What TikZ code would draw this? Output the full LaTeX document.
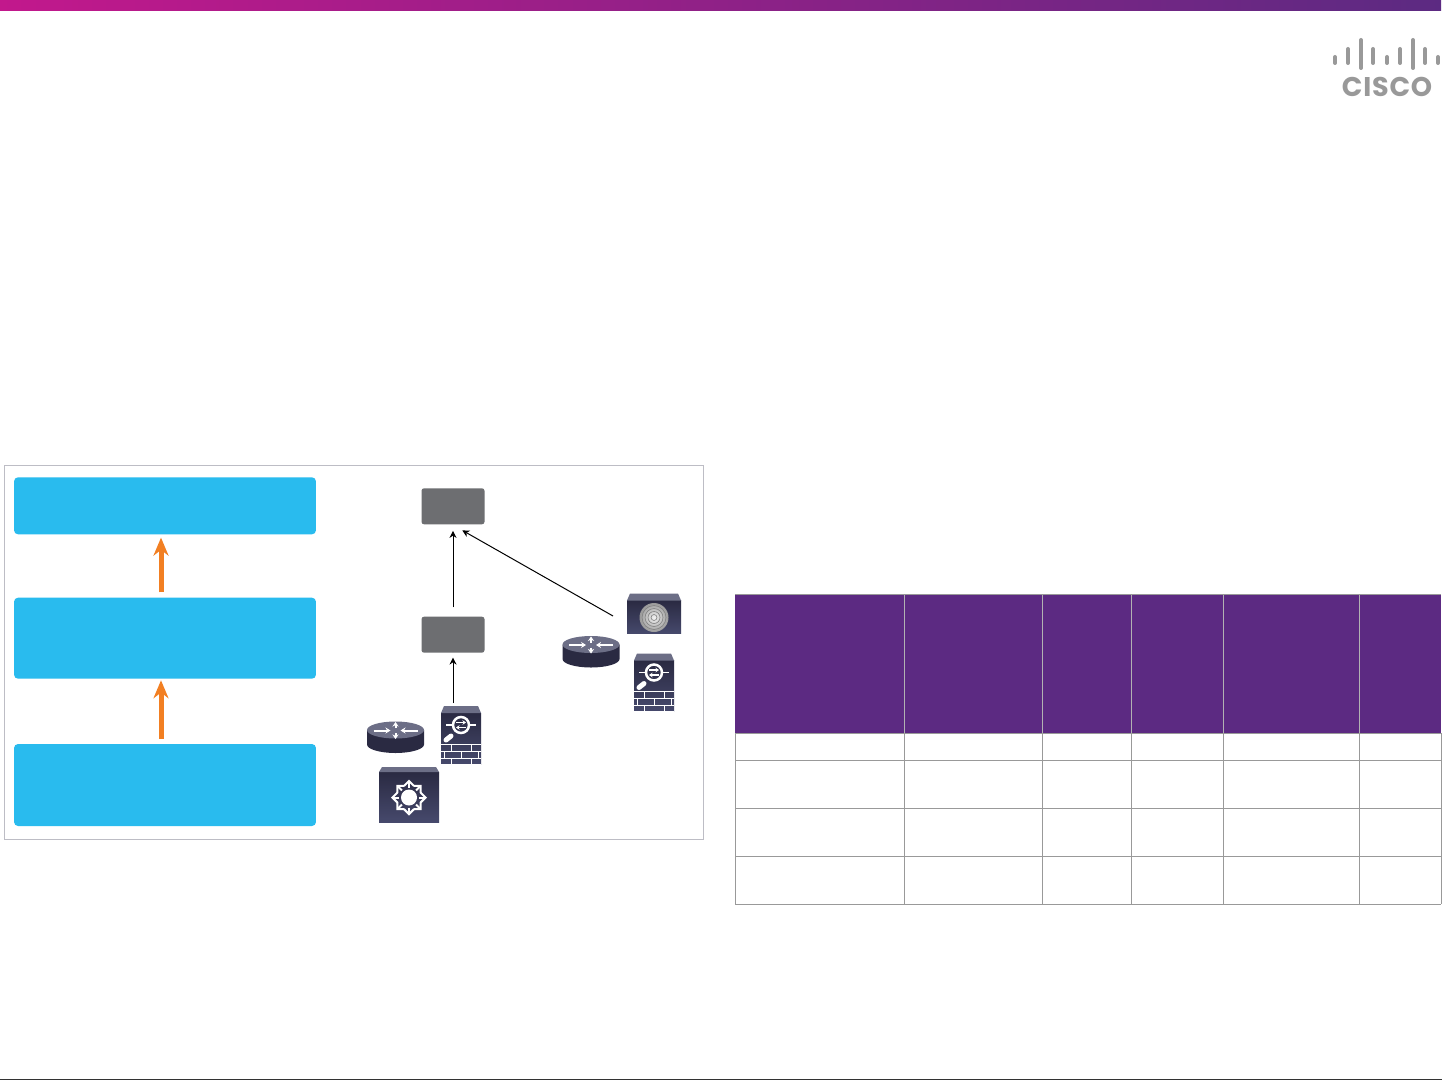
\documentclass[tikz,border=0pt]{standalone}
\usepackage{fontspec}
\usepackage{tikz}
\usetikzlibrary{arrows.meta,calc}
\newfontfamily\logofont[LetterSpace=3]{Poppins}
\definecolor{barpink}{HTML}{C2188C}
\definecolor{barmid}{HTML}{9C1F8C}
\definecolor{tablepurple}{HTML}{5C2A82}
\definecolor{boxblue}{HTML}{29BBEE}
\definecolor{arroworange}{HTML}{F27F22}
\definecolor{ctrlgrey}{HTML}{6D6E71}
\definecolor{framegrey}{HTML}{BDBDC5}
\definecolor{icontop}{HTML}{6C6E86}
\definecolor{icondark}{HTML}{14141C}
\definecolor{iconhigh}{HTML}{2A2A42}
\definecolor{iconlow}{HTML}{46496C}
\tikzset{
  tierbox/.style={fill=boxblue,rounded corners=0.08cm,minimum width=6.04cm,inner sep=0pt},
  ctrlbox/.style={fill=ctrlgrey,rounded corners=0.05cm,minimum width=1.26cm,minimum height=0.72cm,inner sep=0pt},
  flow/.style={arroworange,line width=0.1cm,-{Stealth[length=0.36cm,width=0.3cm]}},
  link/.style={black,line width=0.02cm,-{Stealth[length=0.14cm,width=0.14cm]}},
  iconbody/.style={top color=iconhigh,middle color=icondark,bottom color=iconlow},
  iconline/.style={white,line width=0.03cm},
  grid/.style={draw=black!40,line width=0.02cm},
}
\newcommand{\routericon}[1]{\begin{scope}[shift={(#1)}]
  \shade[left color=iconhigh,middle color=iconlow,right color=iconhigh] (-28.5,0) -- (-28.5,14.5) arc (180:0:28.5 and 8.5) -- (28.5,0) -- cycle;
  \fill[icontop] (0,0) ellipse (28.5 and 8.5);
  \draw[iconline,line width=0.04cm,-{Stealth[length=0.1cm,width=0.12cm]}] (-22,0.5)--(-5,0.5);
  \draw[iconline,line width=0.04cm,-{Stealth[length=0.1cm,width=0.12cm]}] (22,0.5)--(5,0.5);
  \draw[iconline,line width=0.04cm,-{Stealth[length=0.09cm,width=0.12cm]}] (0,-2)--(0,-8);
  \draw[iconline,line width=0.04cm,-{Stealth[length=0.09cm,width=0.12cm]}] (0,3)--(0,9);
  \end{scope}}
\newcommand{\firewallicon}[1]{\begin{scope}[shift={(#1)}]
  \fill[iconbody] (-20,7) rectangle (20,58);
  \fill[icontop] (-20,7) -- (-17,0) -- (17,0) -- (20,7) -- cycle;
  \draw[white,line width=0.05cm] (0,19) circle (8);
  \draw[iconline] (-15,19)--(-8,19) (8,19)--(15,19);
  \draw[iconline,-{Stealth[length=0.07cm,width=0.09cm]}] (-5,16.5)--(5,16.5);
  \draw[iconline,-{Stealth[length=0.07cm,width=0.09cm]}] (5,21.5)--(-5,21.5);
  \draw[white,line width=0.1cm,line cap=round] (-15,34)--(-10,30);
  \foreach \yy in {38,45,52,58}{\draw[iconline,line width=0.02cm] (-20,\yy)--(20,\yy);}
  \foreach \xx in {-10,10}{\draw[iconline,line width=0.02cm] (\xx,38)--(\xx,45) (\xx,52)--(\xx,58);}
  \foreach \xx in {-17,0,17}{\draw[iconline,line width=0.02cm] (\xx,45)--(\xx,52);}
  \end{scope}}
\newcommand{\switchicon}[1]{\begin{scope}[shift={(#1)}]
  \fill[iconbody] (-30,5) rectangle (30,55);
  \fill[icontop] (-30,5) -- (-27,0) -- (27,0) -- (30,5) -- cycle;
  \fill[white] (0,30.5) circle (8);
  \foreach \aa in {0,45,...,315}{\draw[white,line width=0.04cm,-{Straight Barb[length=0.1cm,width=0.2cm]}] ($(0,30.5)+(\aa:10)$) -- ($(0,30.5)+(\aa:18)$);}
  \end{scope}}
\newcommand{\scanicon}[1]{\begin{scope}[shift={(#1)}]
  \fill[iconbody] (-27,7) rectangle (27,40);
  \fill[icontop] (-27,7) -- (-24,0) -- (24,0) -- (27,7) -- cycle;
  \shade[inner color=black!5,outer color=black!40] (0,24) circle (14.5);
  \foreach \rr in {3,6,9,12}{\draw[black!50,line width=0.012cm] (0,24) circle (\rr);}
  \end{scope}}

\begin{document}
\begin{tikzpicture}[x=0.02cm,y=-0.02cm]
\useasboundingbox (0,0) rectangle (1442,1081);
\fill[white] (0,0) rectangle (1442,1081);
\shade[left color=barpink,middle color=barmid,right color=tablepurple] (0,0) rectangle (1441,11);
\foreach \xx/\ya/\yb in {1335/57/63,1348/49/63,1361/40/68,1373/49/63,1387/57/63,1400/49/63,1413/40/68,1425/49/63,1438/57/63}{
  \draw[black!40,line width=0.08cm,line cap=round] (\xx,\ya) -- (\xx,\yb);}
\node[text=black!40,font=\logofont\bfseries\fontsize{15.4}{15.4}\selectfont,inner sep=0pt] (logo) at (1387,87) {CISCO};
\draw[framegrey,line width=0.02cm] (4,465) rectangle (703,839);
\node[tierbox,minimum height=1.14cm] (tierc) at (165,505.8) {};
\node[tierbox,minimum height=1.62cm] (tierb) at (165,638.2) {};
\node[tierbox,minimum height=1.64cm] (tiera) at (165,785) {};
\draw[flow,shorten <=0.1cm,shorten >=0.06cm] ($(tierb.north)+(-4,0)$) -- ($(tierc.south)+(-4,0)$);
\draw[flow,shorten <=0.1cm,shorten >=0.025cm] ($(tiera.north)+(-4,0)$) -- ($(tierb.south)+(-4,0)$);
\node[ctrlbox] (ctrltop) at (453,506.3) {};
\node[ctrlbox] (ctrlmid) at (453,634.7) {};
\routericon{395.5,730}
\firewallicon{461,706}
\switchicon{409,767}
\routericon{591,644.5}
\scanicon{654,593.5}
\firewallicon{654,653.5}
\coordinate (fwtop) at (453,703);
\coordinate (scantip) at (613,616);
\draw[link,shorten >=0.09cm] (fwtop) -- (ctrlmid.south);
\draw[link,shorten <=0.18cm,shorten >=0.125cm] (ctrlmid.north) -- (ctrltop.south);
\draw[link] (scantip) -- ($(ctrltop.south)+(9.3,5.7)$);
\fill[tablepurple] (735,594) rectangle (1441,733);
\foreach \xx in {904,1042,1131,1223,1359}{\draw[black!30,line width=0.02cm] (\xx,594) -- (\xx,733);}
\foreach \xx in {735,904,1042,1131,1223,1359,1441}{\draw[grid] (\xx,733) -- (\xx,904);}
\foreach \yy in {594,733,760,808,856,904}{\draw[grid] (735,\yy) -- (1441,\yy);}
\draw[black!80,line width=0.03cm] (0,1079.5) -- (1442,1079.5);
\end{tikzpicture}
\end{document}
